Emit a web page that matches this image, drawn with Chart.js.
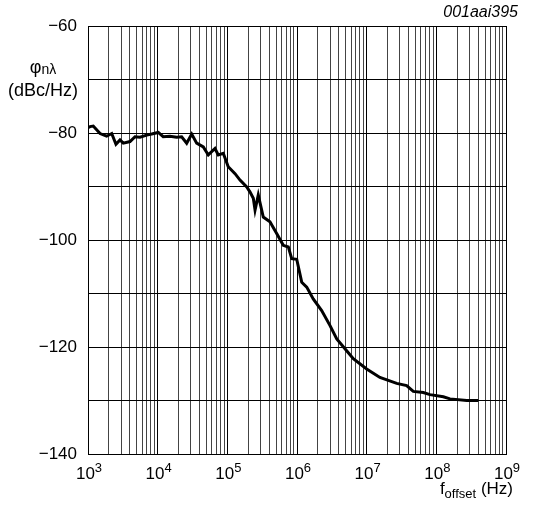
<!DOCTYPE html>
<html>
<head>
<meta charset="utf-8">
<script src="https://cdn.jsdelivr.net/npm/chart.js@4.4.0/dist/chart.umd.min.js"></script>
<style>
  html, body { margin: 0; padding: 0; background: #fff; }
  #wrap { width: 534px; height: 506px; }
</style>
</head>
<body>
<div id="wrap"><canvas id="noiseChart" width="534" height="506"></canvas></div>
<script>
// offset frequency (Hz) and phase noise (dBc/Hz)
const freqHz = [
    1000, 1070, 1190, 1490, 1850, 2190, 2520, 2880, 3210, 4010,
    4730, 5570, 6970, 8200, 10200, 12000, 15000, 18700, 22100, 26100,
    30800, 36300, 45200, 53300, 66500, 74100, 87500, 103000, 129000, 152000,
    190000, 211000, 236000, 250000, 278000, 328000, 409000, 511000, 635000, 750000,
    840000, 991000, 1.17e6, 1.38e6, 1.71e6, 2.26e6, 2.98e6, 3.72e6, 5.16e6, 6.43e6,
    1.0e7, 1.55e7, 2.70e7, 3.75e7, 4.67e7, 6.50e7, 8.11e7, 1.26e8, 1.57e8, 2.73e8,
    4.0e8
];
const noiseDb = [
    -79.0, -78.8, -78.7, -80.1, -80.6, -80.1, -82.1, -81.3, -81.9, -81.6,
    -80.7, -80.8, -80.4, -80.2, -79.9, -80.7, -80.6, -80.8, -80.7, -81.9,
    -80.2, -81.9, -82.6, -84.1, -82.9, -84.1, -83.8, -86.3, -87.6, -88.8,
    -90.1, -91.0, -92.2, -94.4, -91.6, -95.7, -96.6, -98.8, -101.0, -101.3,
    -103.5, -103.6, -107.9, -108.8, -111.0, -113.2, -116.0, -118.5, -120.7, -122.2,
    -124.1, -125.7, -126.8, -127.2, -128.3, -128.5, -128.9, -129.3, -129.7, -130.0,
    -130.0
];
const xDecades = [3, 4, 5, 6, 7, 8, 9];
const yMin = -140, yMax = -60, yStep = 10, yLabelStep = 20;

const FONT = '"Liberation Sans", Arial, Helvetica, sans-serif';

const points = freqHz.map((f, i) => ({ x: f, y: noiseDb[i] }));

// draws the texts that need sub/superscripts
const labelsPlugin = {
    id: 'labels',
    afterDraw(chart) {
        const ctx = chart.ctx;
        const xs = chart.scales.x;
        const area = chart.chartArea;
        ctx.save();
        ctx.fillStyle = '#000';
        ctx.textBaseline = 'alphabetic';

        // 10^n tick labels
        xDecades.forEach(e => {
            const px = xs.getPixelForValue(Math.pow(10, e));
            ctx.font = '17px ' + FONT;
            const w1 = ctx.measureText('10').width;
            ctx.font = '13px ' + FONT;
            const w2 = ctx.measureText(String(e)).width;
            const left = px - (w1 + w2) / 2 + 1;
            ctx.textAlign = 'left';
            ctx.font = '17px ' + FONT;
            ctx.fillText('10', left, area.bottom + 25);
            ctx.font = '13px ' + FONT;
            ctx.fillText(String(e), left + w1, area.bottom + 18);
        });

        // x axis title: f_offset (Hz)
        ctx.font = '17px ' + FONT;
        const wf = ctx.measureText('f').width;
        const wh = ctx.measureText(' (Hz)').width;
        ctx.font = '13px ' + FONT;
        const wo = ctx.measureText('offset').width;
        let tx = 513 - (wf + wo + wh);
        const ty = 494;
        ctx.font = '17px ' + FONT;
        ctx.fillText('f', tx, ty);
        ctx.font = '13px ' + FONT;
        ctx.fillText('offset', tx + wf, ty + 4);
        ctx.font = '17px ' + FONT;
        ctx.fillText(' (Hz)', tx + wf + wo, ty);

        // y axis title
        ctx.font = '18px ' + FONT;
        const wphi = ctx.measureText('\u03c6').width;
        ctx.font = '14px ' + FONT;
        const wsub = ctx.measureText('n\u03bb').width;
        const cx = 43;
        let sx = cx - (wphi + wsub) / 2;
        ctx.font = '18px ' + FONT;
        ctx.fillText('\u03c6', sx, 73);
        ctx.font = '14px ' + FONT;
        ctx.fillText('n\u03bb', sx + wphi, 74);
        ctx.font = '18px ' + FONT;
        ctx.textAlign = 'center';
        ctx.fillText('(dBc/Hz)', cx, 96);

        // figure code
        ctx.font = 'italic 16px ' + FONT;
        ctx.textAlign = 'right';
        ctx.fillText('001aai395', 518, 17);
        ctx.restore();
    }
};

const ctx = document.getElementById('noiseChart').getContext('2d');
new Chart(ctx, {
    type: 'line',
    data: {
        datasets: [{
            data: points,
            borderColor: '#000',
            borderWidth: 3,
            pointRadius: 0,
            fill: false,
            tension: 0
        }]
    },
    options: {
        responsive: false,
        animation: false,
        layout: { padding: { left: 0, top: 26, right: 28, bottom: 0 } },
        plugins: { legend: { display: false }, tooltip: { enabled: false } },
        scales: {
            x: {
                type: 'logarithmic',
                min: 1e3,
                max: 1e9,
                afterBuildTicks(scale) {
                    const ticks = [];
                    for (let e = 3; e < 9; e++) {
                        for (let m = 1; m < 10; m++) ticks.push({ value: m * Math.pow(10, e) });
                    }
                    ticks.push({ value: 1e9 });
                    scale.ticks = ticks;
                },
                afterFit(scale) { scale.height = 52; },
                ticks: { display: false, autoSkip: false },
                grid: {
                    color: ctx => {
                        const v = ctx.tick ? ctx.tick.value : 0;
                        const l = Math.log10(v);
                        return Math.abs(l - Math.round(l)) < 1e-9 ? '#000' : '#444';
                    },
                    lineWidth: 1,
                    drawTicks: false
                },
                border: { color: '#000', width: 1 }
            },
            y: {
                min: yMin,
                max: yMax,
                afterFit(scale) { scale.width = 88; },
                ticks: {
                    stepSize: yStep,
                    padding: 11,
                    color: '#000',
                    font: { family: FONT, size: 17 },
                    callback: v => (v % yLabelStep === 0 ? '\u2212' + Math.abs(v) : '')
                },
                grid: { color: '#000', lineWidth: 1, drawTicks: false },
                border: { color: '#000', width: 1 }
            }
        }
    },
    plugins: [labelsPlugin]
});
</script>
</body>
</html>
